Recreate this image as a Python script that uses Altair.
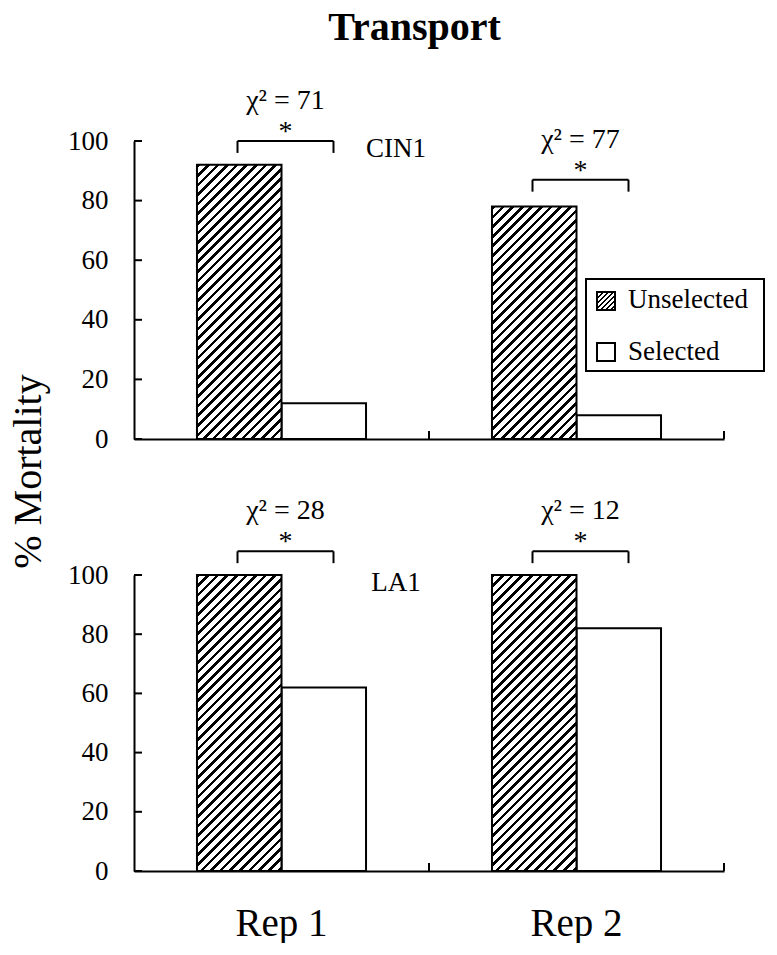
import math
import altair as alt
import pandas as pd

# ---------------- data ----------------
reps = ["Rep 1", "Rep 2"]
groups = ["Unselected", "Selected"]

cin1_unselected = [92, 78]
cin1_selected = [12, 8]
cin1_chi = ["χ² = 71", "χ² = 77"]
cin1_bracket = [100, 87]

la1_unselected = [100, 100]
la1_selected = [62, 82]
la1_chi = ["χ² = 28", "χ² = 12"]
la1_bracket = [108, 108]

y_ticks = [0, 20, 40, 60, 80, 100]
legend_labels = ["Unselected", "Selected"]

# ---------------- style ----------------
FONT = "Liberation Serif"
W = 590
H_TOP = 298
H_BOT = 296
BAND = W / len(reps)
PAD_OUTER = 0.745
BAR_W = BAND / (len(groups) + 2 * PAD_OUTER)
TICK = 8


def hatch(w, h, period=6.8, frac=0.38):
    """Diagonal '/' hatch as a hard-stop linear gradient (bbox units)."""
    a = (w + h) / (w * w + h * h)
    n = (w + h) / math.sqrt(2) / period
    stops = []
    k = 0
    while k / n < 1:
        o0 = k / n
        o1 = min((k + frac) / n, 1.0)
        o2 = min((k + 1) / n, 1.0)
        stops += [
            {"offset": round(o0, 5), "color": "black"},
            {"offset": round(o1, 5), "color": "black"},
            {"offset": round(o1, 5), "color": "white"},
            {"offset": round(o2, 5), "color": "white"},
        ]
        k += 1
    return {"gradient": "linear", "x1": 0, "y1": 0,
            "x2": round(a * w, 5), "y2": round(a * h, 5), "stops": stops}


xscale = alt.Scale(domain=reps, paddingInner=0, paddingOuter=0)
oscale = alt.Scale(domain=groups, paddingInner=0, paddingOuter=PAD_OUTER)
yscale = alt.Scale(domain=[0, 100], nice=False, zero=True)


def panel(label, unsel, sel, chi, bracket, height, top):
    bars = pd.DataFrame({
        "rep": reps * 2,
        "group": [groups[0]] * len(reps) + [groups[1]] * len(reps),
        "value": list(unsel) + list(sel),
    })
    ann = pd.DataFrame({
        "rep": reps,
        "chi": chi,
        "star": ["*"] * len(reps),
        "bracket": bracket,
        "leg": [b - 4 for b in bracket],
    })
    lab = pd.DataFrame({"rep": [reps[0]], "label": [label], "ly": [94.5]})
    yt = pd.DataFrame({"t": y_ticks})
    xt = pd.DataFrame({"rep": reps})

    x_axis = alt.Axis(
        title=None, labels=not top, ticks=False, labelPadding=64,
        labelFontSize=39, labelBaseline="alphabetic", labelAngle=0,
    )
    if top:
        y_axis = alt.Axis(
            values=y_ticks, ticks=False, labelPadding=26,
            labelFontSize=27, title="% Mortality", titleFontSize=40,
            titleFontWeight="normal", titleAngle=270, titleX=-94, titleY=330,
            titleBaseline="alphabetic", titleAlign="center",
        )
    else:
        y_axis = alt.Axis(
            values=y_ticks, ticks=False, labelPadding=26,
            labelFontSize=27, title=None,
        )

    def X(field="rep:N", **kw):
        return alt.X(field, scale=xscale, axis=x_axis, **kw)

    def Y(field):
        return alt.Y(field, scale=yscale, axis=y_axis)

    base_bars = alt.Chart(bars)
    layers = [
        base_bars.mark_bar(fill="white", stroke="black", strokeWidth=2).encode(
            x=X(), xOffset=alt.XOffset("group:N", scale=oscale), y=Y("value:Q"),
        ).transform_filter(alt.datum.group == groups[1])
    ]
    for r, v in zip(reps, unsel):
        layers.append(
            base_bars.mark_bar(fill=hatch(BAR_W, v / 100 * height), stroke="black", strokeWidth=2)
            .encode(x=X(), xOffset=alt.XOffset("group:N", scale=oscale), y=Y("value:Q"))
            .transform_filter((alt.datum.group == groups[0]) & (alt.datum.rep == r))
        )

    # inward axis ticks
    layers.append(alt.Chart(yt).mark_rule(color="black", strokeWidth=2).encode(
        y=Y("t:Q"), x=alt.value(0), x2=alt.value(TICK)))
    layers.append(alt.Chart(xt).mark_rule(color="black", strokeWidth=2).encode(
        x=X(bandPosition=1), y=alt.value(height - TICK), y2=alt.value(height)))

    a = alt.Chart(ann)
    layers.append(a.mark_rule(color="black", strokeWidth=2, xOffset=-44, x2Offset=52).encode(
        x=X(), x2=alt.X2("rep"), y=Y("bracket:Q")))
    layers.append(a.mark_rule(color="black", strokeWidth=2, xOffset=-44).encode(
        x=X(), y=Y("bracket:Q"), y2=alt.Y2("leg")))
    layers.append(a.mark_rule(color="black", strokeWidth=2, xOffset=52).encode(
        x=X(), y=Y("bracket:Q"), y2=alt.Y2("leg")))
    layers.append(a.mark_text(font=FONT, fontSize=28, color="black", baseline="alphabetic",
                              dy=-1, dx=4).encode(x=X(), y=Y("bracket:Q"), text="star:N"))
    layers.append(a.mark_text(font=FONT, fontSize=28, color="black", baseline="alphabetic",
                              dy=-32, dx=4).encode(x=X(), y=Y("bracket:Q"), text="chi:N"))
    layers.append(alt.Chart(lab).mark_text(font=FONT, fontSize=27, color="black",
                                           baseline="alphabetic", dx=114.5).encode(
        x=X(), y=Y("ly:Q"), text="label:N"))

    if top:
        leg_u = pd.DataFrame({"label": [legend_labels[0]]})
        leg_s = pd.DataFrame({"label": [legend_labels[1]]})
        layers.append(alt.Chart(leg_u).mark_rect(fill="white", stroke="black", strokeWidth=2).encode(
            x=alt.value(452), x2=alt.value(630), y=alt.value(138), y2=alt.value(230)))
        layers.append(alt.Chart(leg_u).mark_square(size=324, fill=hatch(18, 18, period=3.6, frac=0.4),
                                                   stroke="black", strokeWidth=2, opacity=1).encode(
            x=alt.value(472), y=alt.value(160)))
        layers.append(alt.Chart(leg_s).mark_square(size=324, fill="white",
                                                   stroke="black", strokeWidth=2, opacity=1).encode(
            x=alt.value(472), y=alt.value(211)))
        layers.append(alt.Chart(leg_u).mark_text(font=FONT, fontSize=27, color="black",
                                                 align="left", baseline="alphabetic").encode(
            x=alt.value(494), y=alt.value(167), text="label:N"))
        layers.append(alt.Chart(leg_s).mark_text(font=FONT, fontSize=27, color="black",
                                                 align="left", baseline="alphabetic").encode(
            x=alt.value(494), y=alt.value(219), text="label:N"))

    return alt.layer(*layers).properties(width=W, height=height)


top_chart = panel("CIN1", cin1_unselected, cin1_selected, cin1_chi, cin1_bracket, H_TOP, True)
bot_chart = panel("LA1", la1_unselected, la1_selected, la1_chi, la1_bracket, H_BOT, False)

chart = alt.vconcat(
    top_chart, bot_chart, spacing=136, bounds="flush",
    title=alt.TitleParams(text="Transport", font=FONT, fontSize=40, fontWeight="bold",
                          anchor="middle", color="black", offset=39, dx=28),
).properties(
    padding={"left": 0, "top": 0, "right": 0, "bottom": 0},
    background="white",
).configure_view(
    strokeWidth=0
).configure_axis(
    domainColor="black", domainWidth=2, labelColor="black", titleColor="black",
    labelFont=FONT, titleFont=FONT, grid=False,
)

chart.save("out.html", embed_options={"renderer": "svg", "actions": False})
